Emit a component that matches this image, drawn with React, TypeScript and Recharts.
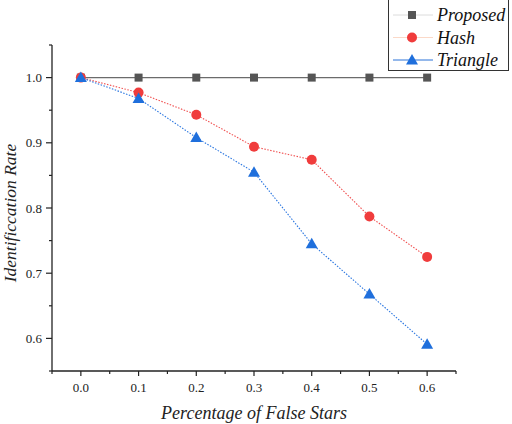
import React from "react";
import { LineChart, Line, XAxis, YAxis, Legend, Label } from "recharts";

const xValues = [0.0, 0.1, 0.2, 0.3, 0.4, 0.5, 0.6];
const proposed = [1.0, 1.0, 1.0, 1.0, 1.0, 1.0, 1.0];
const hash = [1.0, 0.977, 0.943, 0.894, 0.874, 0.787, 0.725];
const triangle = [1.0, 0.968, 0.908, 0.855, 0.745, 0.668, 0.591];

const xTicks = [-0.05, 0, 0.05, 0.1, 0.15, 0.2, 0.25, 0.3, 0.35, 0.4, 0.45, 0.5, 0.55, 0.6, 0.65];
const yTicks = [0.55, 0.6, 0.65, 0.7, 0.75, 0.8, 0.85, 0.9, 0.95, 1.0, 1.05];

const seriesNames = ["Proposed", "Hash", "Triangle"];

const data = xValues.map((x, i) => ({
  x,
  Proposed: proposed[i],
  Hash: hash[i],
  Triangle: triangle[i],
}));

const FONT = '"Liberation Serif", "Times New Roman", serif';
const AXIS = "#222";

const styles: Record<string, { stroke: string; fill: string; dash?: string; width: number; legendLine: string; shape: string }> = {
  Proposed: { stroke: "#6b6b6b", fill: "#555555", width: 1.3, legendLine: "#dcdcdc", shape: "square" },
  Hash: { stroke: "#f05050", fill: "#f03c3c", dash: "1.5 1.5", width: 1.1, legendLine: "#fbd9c8", shape: "circle" },
  Triangle: { stroke: "#2a76e0", fill: "#1f6fdc", dash: "1.5 1.5", width: 1.1, legendLine: "#2a72d8", shape: "triangle" },
};

const isMajor = (v: number) => Math.round(v * 100) % 10 === 0;

function Marker({ shape, cx, cy, fill }: { shape: string; cx: number; cy: number; fill: string }) {
  if (shape === "square") return <rect x={cx - 4} y={cy - 4} width={8} height={8} fill={fill} />;
  if (shape === "circle") return <circle cx={cx} cy={cy} r={5} fill={fill} />;
  return <polygon points={`${cx},${cy - 6} ${cx - 6},${cy + 4.5} ${cx + 6},${cy + 4.5}`} fill={fill} />;
}

const XTick = (props: any) => {
  const { x, y, payload } = props;
  const v = payload.value as number;
  const major = isMajor(v);
  return (
    <g>
      <line x1={x} y1={y} x2={x} y2={y + (major ? 5 : 3)} stroke={AXIS} strokeWidth={1.2} />
      {major && (
        <text x={x} y={y + 21} textAnchor="middle" style={{ fontFamily: FONT, fontSize: 13 }} fill="#222">
          {v.toFixed(1)}
        </text>
      )}
    </g>
  );
};

const YTick = (props: any) => {
  const { x, y, payload } = props;
  const v = payload.value as number;
  const major = isMajor(v);
  return (
    <g>
      <line x1={x} y1={y} x2={x - (major ? 6 : 3)} y2={y} stroke={AXIS} strokeWidth={1.2} />
      {major && (
        <text x={x - 10} y={y + 4.5} textAnchor="end" style={{ fontFamily: FONT, fontSize: 13 }} fill="#222">
          {v.toFixed(1)}
        </text>
      )}
    </g>
  );
};

const LegendBox = () => (
  <div style={{ width: 121, height: 72, border: "1px solid #333", background: "#fff", boxSizing: "border-box" }}>
    <svg width={121} height={72} style={{ display: "block" }}>
      {seriesNames.map((name, i) => {
        const s = styles[name];
        const cy = 15 + i * 22.5;
        return (
          <g key={name}>
            <line x1={4} y1={cy} x2={44} y2={cy} stroke={s.legendLine} strokeWidth={1} />
            <Marker shape={s.shape} cx={23} cy={cy} fill={s.fill} />
            <text x={48} y={cy + 6} style={{ fontFamily: FONT, fontStyle: "italic", fontSize: 18 }} fill="#111">
              {name}
            </text>
          </g>
        );
      })}
    </svg>
  </div>
);

export default function App() {
  return (
    <div style={{ position: "fixed", left: 0, top: 0, width: 512, height: 424, background: "#fff" }}>
      <LineChart width={512} height={424} data={data} margin={{ top: 45, right: 56, bottom: 0, left: 0 }}>
        <XAxis
          type="number"
          dataKey="x"
          domain={[-0.05, 0.65]}
          ticks={xTicks}
          interval={0}
          allowDataOverflow
          height={53}
          tickSize={0}
          tickMargin={0}
          tickLine={false}
          tick={<XTick />}
          axisLine={{ stroke: AXIS, strokeWidth: 1.3 }}
        >
          <Label
            content={(p: any) => {
              const vb = p.viewBox;
              return (
                <text x={vb.x + vb.width / 2} y={419} textAnchor="middle" style={{ fontFamily: FONT, fontStyle: "italic", fontSize: 18 }} fill="#222">
                  Percentage of False Stars
                </text>
              );
            }}
          />
        </XAxis>
        <YAxis
          type="number"
          domain={[0.55, 1.05]}
          ticks={yTicks}
          interval={0}
          allowDataOverflow
          width={52}
          tickSize={0}
          tickMargin={0}
          tickLine={false}
          tick={<YTick />}
          axisLine={{ stroke: AXIS, strokeWidth: 1.3 }}
        >
          <Label
            content={(p: any) => {
              const vb = p.viewBox;
              const cx = 16;
              const cy = vb.y + vb.height / 2 + 5;
              return (
                <text x={cx} y={cy} transform={`rotate(-90 ${cx} ${cy})`} textAnchor="middle" style={{ fontFamily: FONT, fontStyle: "italic", fontSize: 17.5 }} fill="#222">
                  Identificcation Rate
                </text>
              );
            }}
          />
        </YAxis>
        {seriesNames.map((name) => {
          const s = styles[name];
          return (
            <Line
              key={name}
              dataKey={name}
              type="linear"
              stroke={s.stroke}
              strokeWidth={s.width}
              strokeDasharray={s.dash}
              isAnimationActive={false}
              dot={(p: any) => <Marker key={`${name}-${p.index}`} shape={s.shape} cx={p.cx} cy={p.cy} fill={s.fill} />}
              activeDot={false}
            />
          );
        })}
        <Legend
          layout="vertical"
          align="center"
          verticalAlign="middle"
          content={() => <LegendBox />}
          wrapperStyle={{ position: "absolute", left: 388, top: -1, width: 121, height: 72 }}
        />
      </LineChart>
    </div>
  );
}
